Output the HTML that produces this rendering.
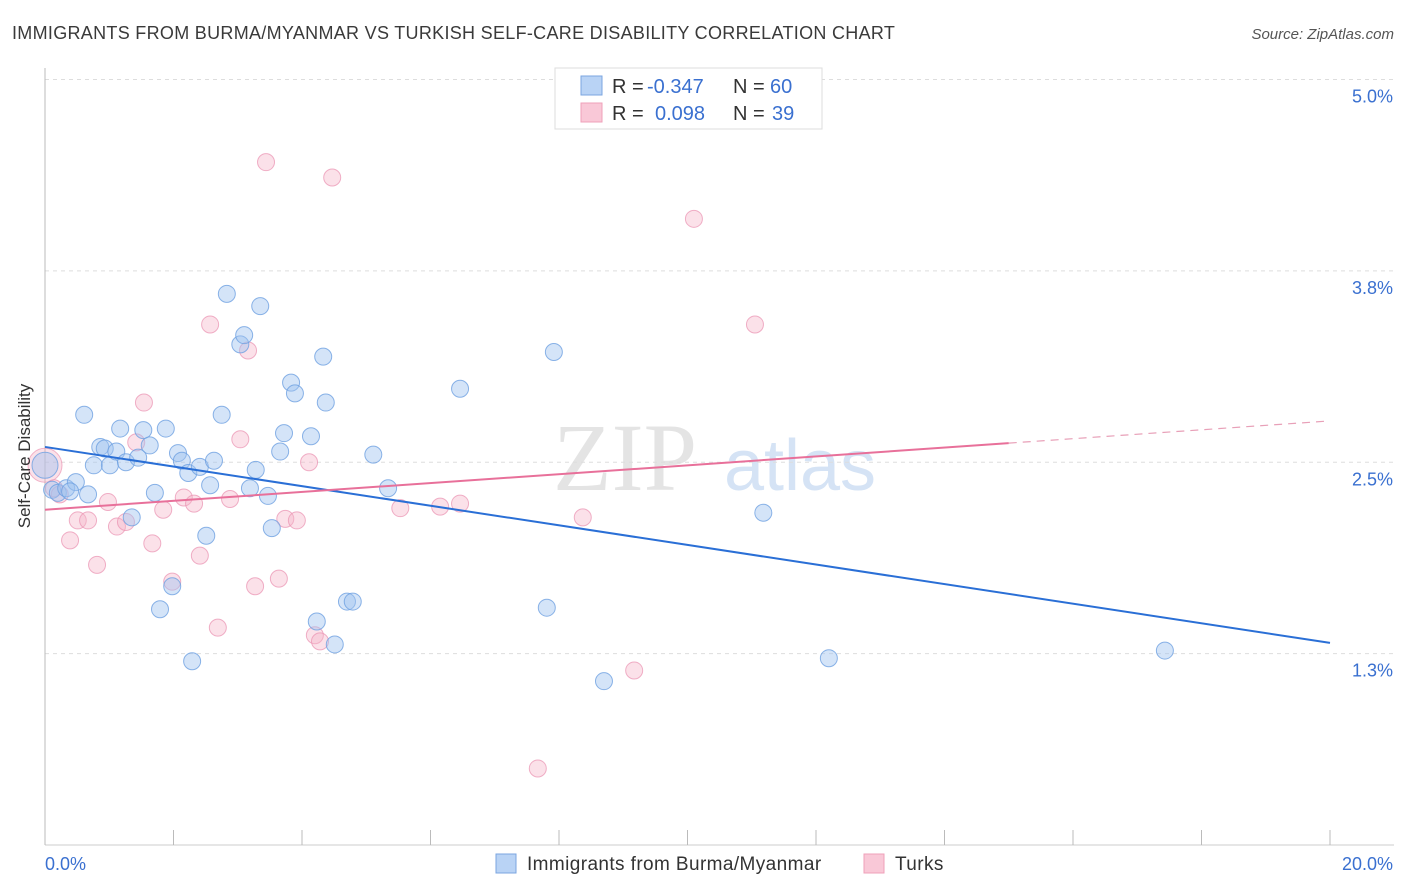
<!DOCTYPE html>
<html><head><meta charset="utf-8"><style>
body{margin:0;background:#fff;font-family:"Liberation Sans",sans-serif;}
svg{display:block}
</style></head><body>
<svg id="chart" width="1406" height="892">
<text x="12" y="39" font-size="18" fill="#3a3a3a" letter-spacing="0.3">IMMIGRANTS FROM BURMA/MYANMAR VS TURKISH SELF-CARE DISABILITY CORRELATION CHART</text>
<text x="1394" y="39" font-size="15" fill="#555" text-anchor="end" font-style="italic">Source: ZipAtlas.com</text>
<g>
<text x="625" y="490" font-size="96" font-family="Liberation Serif,serif" fill="#e4e4e4" text-anchor="middle">ZIP</text>
<text x="800" y="490" font-size="72" fill="#d5e3f5" text-anchor="middle">atlas</text>
</g>
<g id="grid"></g><g id="axes"></g><g id="pts"></g><g id="trends"></g>
<text x="30" y="456" font-size="17" fill="#333" text-anchor="middle" transform="rotate(-90 30 456)">Self-Care Disability</text>
<g>
<rect x="555" y="68" width="267" height="61" fill="#fff" stroke="#ddd"/>
<rect x="581" y="76" width="21" height="19" fill="#b9d3f5" stroke="#7ba6e0"/>
<rect x="581" y="103" width="21" height="19" fill="#f9c8d7" stroke="#efa0ba"/>
<text x="612" y="93" font-size="20" fill="#333">R = <tspan x="647" fill="#3a70d0">-0.347</tspan><tspan x="733">N = </tspan><tspan x="770" fill="#3a70d0">60</tspan></text>
<text x="612" y="120" font-size="20" fill="#333">R = <tspan x="655" fill="#3a70d0">0.098</tspan><tspan x="733">N = </tspan><tspan x="772" fill="#3a70d0">39</tspan></text>
</g>
<g>
<rect x="496" y="854" width="20" height="19" fill="#b9d3f5" stroke="#7ba6e0"/>
<text x="527" y="870" font-size="19" fill="#333" letter-spacing="0.4">Immigrants from Burma/Myanmar</text>
<rect x="864" y="854" width="20" height="19" fill="#f9c8d7" stroke="#efa0ba"/>
<text x="895" y="870" font-size="19" fill="#333" letter-spacing="0.4">Turks</text>
</g>
</svg>
<script>
const xTicks=[0,20];
const yTicks=[1.25,2.5,3.75,5.0];
const yTickLabels=["1.3%","2.5%","3.8%","5.0%"];
const blueX=[0.11,0.20,0.33,0.48,0.61,0.67,0.76,0.86,0.93,1.01,1.11,1.17,1.26,1.35,1.45,1.53,1.63,1.71,1.79,1.88,1.98,2.07,2.13,2.23,2.29,2.41,2.51,2.57,2.63,2.75,2.83,3.04,3.10,3.19,3.28,3.35,3.47,3.53,3.66,3.72,3.83,3.89,4.14,4.23,4.33,4.37,4.51,4.70,4.79,5.11,5.34,6.46,7.81,7.92,8.70,11.18,12.20,17.43,0.39];
const blueY=[2.32,2.30,2.33,2.37,2.81,2.29,2.48,2.60,2.59,2.48,2.57,2.72,2.50,2.14,2.53,2.71,2.61,2.30,1.54,2.72,1.69,2.56,2.51,2.43,1.20,2.47,2.02,2.35,2.51,2.81,3.60,3.27,3.33,2.33,2.45,3.52,2.28,2.07,2.57,2.69,3.02,2.95,2.67,1.46,3.19,2.89,1.31,1.59,1.59,2.55,2.33,2.98,1.55,3.22,1.07,2.17,1.22,1.27,2.31];
const pinkX=[0.14,0.23,0.39,0.51,0.67,0.81,0.98,1.12,1.26,1.42,1.54,1.67,1.84,1.98,2.16,2.32,2.41,2.57,2.69,2.88,3.04,3.16,3.27,3.44,3.64,3.74,3.92,4.11,4.20,4.28,4.47,5.53,6.15,6.46,7.67,8.37,9.17,10.10,11.05];
const pinkY=[2.33,2.29,1.99,2.12,2.12,1.83,2.24,2.08,2.11,2.63,2.89,1.97,2.19,1.72,2.27,2.23,1.89,3.40,1.42,2.26,2.65,3.23,1.69,4.46,1.74,2.13,2.12,2.50,1.37,1.33,4.36,2.20,2.21,2.23,0.50,2.14,1.14,4.09,3.40];
const blueTrend=[2.60,1.32];
const pinkTrend=[2.19,2.77];
const pinkSolidEnd=15.0;
const X=v=>45+v*64.25, Y=v=>845-v*153.1;
const NS="http://www.w3.org/2000/svg";
function mk(tag,attrs,parent){const e=document.createElementNS(NS,tag);for(const k in attrs)e.setAttribute(k,attrs[k]);parent.appendChild(e);return e;}
const grid=document.getElementById('grid'),axes=document.getElementById('axes'),pts=document.getElementById('pts'),tr=document.getElementById('trends');
yTicks.forEach((t,i)=>{
 const l=mk('line',{x1:45,x2:1394,y1:Y(t),y2:Y(t),stroke:'#ddd','stroke-dasharray':'4,4'},grid);
 
 
 const tx=mk('text',{x:1393,y:Y(t)+23,'font-size':18,fill:'#3a70d0','text-anchor':'end'},axes);
 tx.textContent=yTickLabels[i];
 
 
});
mk('line',{x1:45,x2:45,y1:68,y2:845,stroke:'#bbb'},axes);
mk('line',{x1:45,x2:1394,y1:845,y2:845,stroke:'#ccc'},axes);
for(let i=0;i<=10;i++){const x=X(i*2);mk('line',{x1:x,x2:x,y1:830,y2:845,stroke:'#bbb'},axes);}
xTicks.forEach((t,i)=>{
 const tx=mk('text',{x:i?1393:45,y:870,'font-size':18,fill:'#3a70d0','text-anchor':i?'end':'start'},axes);
 tx.textContent=t.toFixed(1)+'%';
 
 
});
let b=mk('circle',{cx:X(0),cy:Y(2.48),r:17,fill:'rgba(245,180,200,0.4)',stroke:'rgba(235,150,180,0.7)'},pts);


b=mk('circle',{cx:X(0),cy:Y(2.48),r:13,fill:'rgba(160,195,240,0.45)',stroke:'rgba(110,160,225,0.8)'},pts);


pinkX.forEach((x,i)=>{
 const c=mk('circle',{cx:X(x),cy:Y(pinkY[i]),r:8.5,fill:'rgba(245,180,200,0.4)',stroke:'rgba(235,150,180,0.75)'},pts);
 
 
});
blueX.forEach((x,i)=>{
 const c=mk('circle',{cx:X(x),cy:Y(blueY[i]),r:8.5,fill:'rgba(160,195,240,0.45)',stroke:'rgba(110,160,225,0.8)'},pts);
 
 
});
let l=mk('line',{x1:X(0),y1:Y(blueTrend[0]),x2:X(20),y2:Y(blueTrend[1]),stroke:'#2a6fd6','stroke-width':2},tr);


const py=v=>pinkTrend[0]+(pinkTrend[1]-pinkTrend[0])*v/20;
l=mk('line',{x1:X(0),y1:Y(py(0)),x2:X(pinkSolidEnd),y2:Y(py(pinkSolidEnd)),stroke:'#e8709a','stroke-width':2},tr);


l=mk('line',{x1:X(pinkSolidEnd),y1:Y(py(pinkSolidEnd)),x2:X(20),y2:Y(py(20)),stroke:'#e8a0b8','stroke-width':1.2,'stroke-dasharray':'8,6'},tr);


</script>
</body></html>
